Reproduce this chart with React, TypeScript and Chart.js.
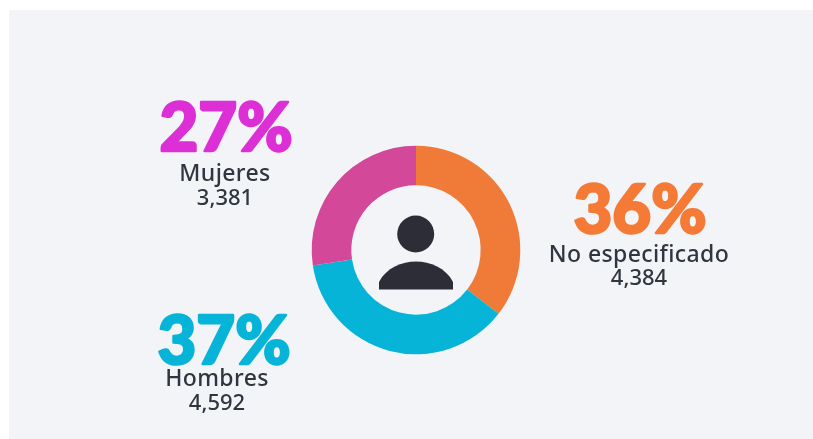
import React, { useEffect, useRef } from "react";
import { Chart, registerables } from "chart.js";

Chart.register(...registerables);

const categories = ["No especificado", "Hombres", "Mujeres"];
const values = [4384, 4592, 3381];
const valueLabels = ["4,384", "4,592", "3,381"];
const percentLabels = ["36%", "37%", "27%"];
const sliceColors = ["#f07a37", "#05b4d6", "#d34899"];
const percentColors = ["#f47a36", "#06b4d8", "#dd2fd6"];

const W = 813;
const H = 439;
const INK = "#2d2d38";
const LABEL_INK = "#30363f";
const PANEL = "#f2f4f8";

// anchor of each text block: [x, percent baseline, name baseline, value baseline]
const blocks = [
  [640, 233, 262, 285],
  [224, 364, 386, 410],
  [226, 151, 181, 205],
];
const nameCentres = [639, 217, 225];

const decorPlugin = {
  id: "decor",
  beforeDraw(chart: any) {
    const { ctx } = chart;
    ctx.save();
    ctx.fillStyle = "#ffffff";
    ctx.fillRect(0, 0, W, H);
    ctx.fillStyle = PANEL;
    ctx.fillRect(9, 10, W - 9, H - 10);
    ctx.restore();
  },
  afterDraw(chart: any) {
    const { ctx } = chart;
    const arc = chart.getDatasetMeta(0).data[0];
    const cx = arc.x;
    const cy = arc.y;
    ctx.save();
    // person icon
    ctx.fillStyle = INK;
    ctx.beginPath();
    ctx.arc(cx - 0.3, cy - 16, 18.5, 0, Math.PI * 2);
    ctx.fill();
    ctx.beginPath();
    ctx.moveTo(cx - 37, cy + 39.5);
    ctx.lineTo(cx - 37, cy + 32);
    ctx.bezierCurveTo(cx - 30, cy + 18, cx - 14, cy + 11.5, cx, cy + 11.5);
    ctx.bezierCurveTo(cx + 14, cy + 11.5, cx + 30, cy + 18, cx + 37, cy + 32);
    ctx.lineTo(cx + 37, cy + 39.5);
    ctx.closePath();
    ctx.fill();
    // labels
    ctx.textAlign = "center";
    ctx.textBaseline = "alphabetic";
    categories.forEach((name, i) => {
      const [x, py, ny, vy] = blocks[i];
      ctx.fillStyle = percentColors[i];
      ctx.strokeStyle = percentColors[i];
      ctx.lineWidth = 2.5;
      ctx.lineJoin = "round";
      ctx.font = '900 67px Lato, "Noto Sans", sans-serif';
      ctx.fillText(percentLabels[i], x, py);
      ctx.strokeText(percentLabels[i], x, py);
      ctx.fillStyle = LABEL_INK;
      ctx.font = '500 23px "Noto Sans", Lato, sans-serif';
      ctx.letterSpacing = "0.4px";
      ctx.fillText(name, nameCentres[i], ny);
      ctx.letterSpacing = "0px";
      ctx.font = '500 22px "Noto Sans", Lato, sans-serif';
      ctx.fillText(valueLabels[i], nameCentres[i], vy);
    });
    ctx.restore();
  },
};

export default function App() {
  const ref = useRef<HTMLCanvasElement>(null);
  useEffect(() => {
    document.body.style.margin = "0";
    const chart = new Chart(ref.current!, {
      type: "doughnut",
      data: {
        labels: categories,
        datasets: [
          {
            data: values,
            backgroundColor: sliceColors,
            borderWidth: 0,
          },
        ],
      },
      options: {
        animation: false,
        responsive: false,
        cutout: "62%",
        layout: { padding: { left: 311.7, right: 292.7, top: 145.7, bottom: 84.7 } },
        plugins: { legend: { display: false }, tooltip: { enabled: false } },
      },
      plugins: [decorPlugin],
    } as any);
    return () => chart.destroy();
  }, []);
  return <canvas ref={ref} width={W} height={H} style={{ display: "block" }} />;
}
